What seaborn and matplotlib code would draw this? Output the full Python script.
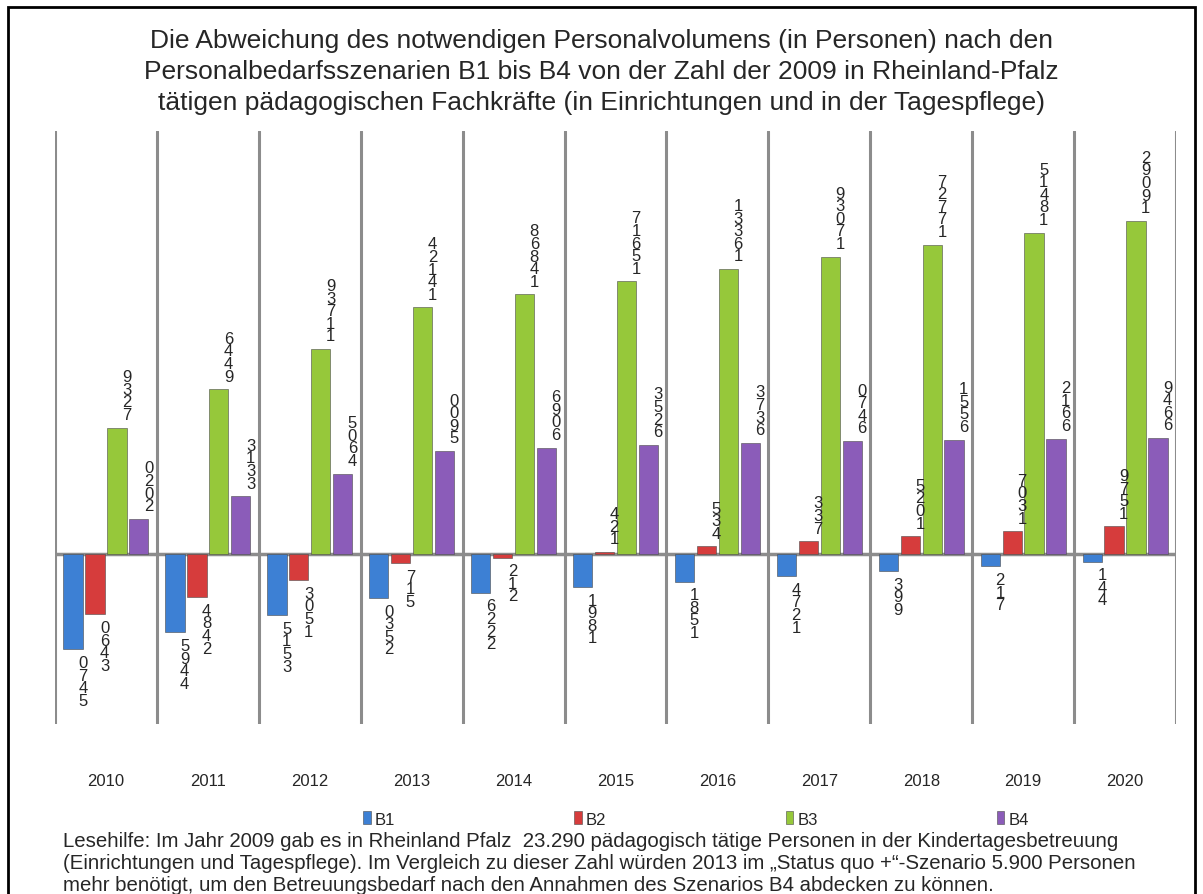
import pandas as pd
import numpy as np
import seaborn as sns
import matplotlib.pyplot as plt
from matplotlib.patches import Rectangle

# Werte (Abweichung in Personen)
years = ['2010', '2011', '2012', '2013', '2014', '2015', '2016', '2017', '2018', '2019', '2020']
b1 = [-5470, -4495, -3515, -2530, -2226, -1891, -1581, -1274, -993, -712, -441]
b2 = [-3460, -2484, -1503, -517, -212, 124, 435, 733, 1025, 1307, 1579]
b3 = [7239, 9446, 11739, 14124, 14868, 15617, 16331, 17039, 17727, 18415, 19092]
b4 = [2020, 3313, 4605, 5900, 6096, 6253, 6373, 6470, 6551, 6612, 6649]
scenarios = ['B1', 'B2', 'B3', 'B4']
colors = ['#3d80d4', '#d63c3c', '#96c83a', '#8b5cb9']

df = pd.DataFrame({
    'Jahr': years * 4,
    'Szenario': np.repeat(scenarios, len(years)),
    'Wert': b1 + b2 + b3 + b4,
})

sns.set_theme(style='white')
plt.rcParams['font.family'] = ['Liberation Sans', 'DejaVu Sans']

fig = plt.figure(figsize=(12.03, 8.95), dpi=100)
ax = fig.add_axes([55 / 1203, 1 - 725 / 895, 1121 / 1203, 593 / 895])

sns.barplot(data=df, x='Jahr', y='Wert', hue='Szenario', palette=colors, saturation=1,
            width=0.86, gap=0.12, ax=ax, edgecolor='#4a4a4a', linewidth=0.4)

# Datenbeschriftungen (Ziffern senkrecht gestapelt wie im Original)
for cont, vals in zip(ax.containers, [b1, b2, b3, b4]):
    for bar, v in zip(cont, vals):
        x = bar.get_x() + bar.get_width() / 2
        txt = '\n'.join(reversed(str(abs(v))))
        if v >= 0:
            ax.annotate(txt, (x, v), xytext=(7, 4), textcoords='offset points',
                        ha='center', va='bottom', fontsize=12, linespacing=0.8)
        else:
            ax.annotate(txt, (x, v), xytext=(7, -4), textcoords='offset points',
                        ha='center', va='top', fontsize=12, linespacing=0.8)

ax.axhline(0, color='#8c8c8c', lw=2.5, zorder=0.5)
ax.set_ylim(-9740, 24230)
ax.set_xlim(-0.5, 10.5)
ax.set_yticks([])
ax.set_xticks(np.arange(-0.5, 11, 1), minor=True)
ax.grid(which='minor', axis='x', color='#8c8c8c', lw=2.2)
ax.set_axisbelow(True)
ax.tick_params(axis='x', which='major', length=0, pad=35, labelsize=12)
ax.tick_params(axis='x', which='minor', length=8, width=2, color='#8c8c8c', direction='out')
ax.set_xlabel('')
ax.set_ylabel('')
for s in ax.spines.values():
    s.set_visible(False)

handles, labels = ax.get_legend_handles_labels()
ax.get_legend().remove()
fig.legend(handles, labels, loc='center left', bbox_to_anchor=(348 / 1203, 1 - 820 / 895),
           ncol=4, frameon=False, fontsize=12, handlelength=0.45, handleheight=0.8,
           handletextpad=0.25, columnspacing=10.75)

fig.text(0.5, 1 - 72 / 895,
         'Die Abweichung des notwendigen Personalvolumens (in Personen) nach den\n'
         'Personalbedarfsszenarien B1 bis B4 von der Zahl der 2009 in Rheinland-Pfalz\n'
         'tätigen pädagogischen Fachkräfte (in Einrichtungen und in der Tagespflege)',
         ha='center', va='center', fontsize=19, linespacing=1.36)

fig.text(63 / 1203, 1 - 864 / 895,
         'Lesehilfe: Im Jahr 2009 gab es in Rheinland Pfalz  23.290 pädagogisch tätige Personen in der Kindertagesbetreuung\n'
         '(Einrichtungen und Tagespflege). Im Vergleich zu dieser Zahl würden 2013 im \u201eStatus quo +\u201c-Szenario 5.900 Personen\n'
         'mehr benötigt, um den Betreuungsbedarf nach den Annahmen des Szenarios B4 abdecken zu können.',
         ha='left', va='center', fontsize=14.7, linespacing=1.2)

# Rahmen um das Diagramm (unterer Rand liegt außerhalb des Bildes)
fig.add_artist(Rectangle((8 / 1203, -10 / 895), 1187 / 1203, 897 / 895, transform=fig.transFigure,
                         fill=False, edgecolor='black', lw=2))

fig.savefig('out.png', dpi=100)
